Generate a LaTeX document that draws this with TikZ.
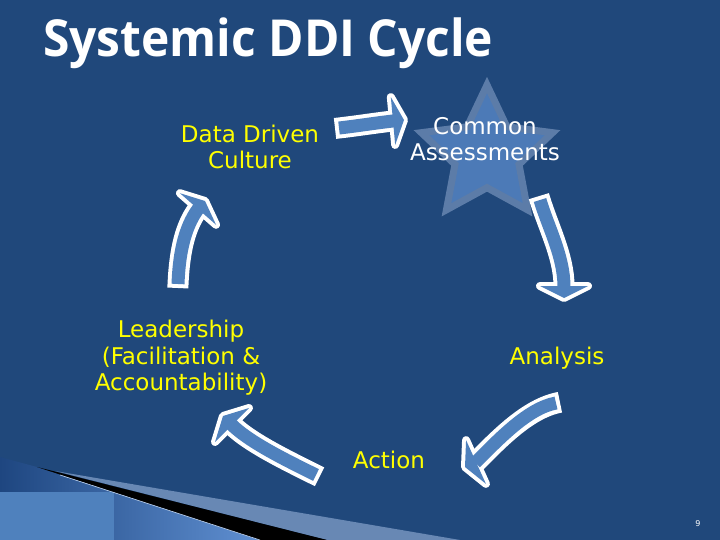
\documentclass[tikz,border=0pt]{standalone}
\usepackage{fontspec}
\setmainfont{DejaVu Sans}
\newfontfamily\titlefont{Open Sans}
\usepackage{tikz}
\usetikzlibrary{calc}
\usetikzlibrary{shapes.geometric}
\definecolor{slidebg}{RGB}{32,72,123}
\definecolor{arrowblue}{RGB}{79,129,189}
\definecolor{starblue}{RGB}{76,122,183}
\definecolor{starrim}{RGB}{92,124,168}
\definecolor{bandgrey}{RGB}{104,136,180}
\definecolor{swooshdark}{RGB}{30,70,128}
\definecolor{swooshlight}{RGB}{96,144,210}
\definecolor{labelyellow}{RGB}{255,255,0}
\tikzset{
stage/.style={text=labelyellow, align=center, inner sep=0pt, font=\fontsize{23}{26.5}\selectfont},
arrow rim/.style={draw=white, line width=21pt, shorten <=-4pt},
head rim/.style={fill=white, draw=white, line width=8pt, line join=round},
arrow body/.style={draw=arrowblue, line width=13pt, shorten >=-1pt},
arrow fill/.style={fill=arrowblue}
}
% tail, control, control, head base, tip
\newcommand{\cyclearrow}[5]{%
  \draw[arrow rim] (#1) .. controls (#2) and (#3) .. (#4);
  \filldraw[head rim] (#5) -- ($(#4)!24pt!90:(#5)$) -- ($(#4)!24pt!-90:(#5)$) -- cycle;
  \draw[arrow body] (#1) .. controls (#2) and (#3) .. (#4);
  \fill[arrow fill] (#5) -- ($(#4)!24pt!90:(#5)$) -- ($(#4)!24pt!-90:(#5)$) -- cycle;
}

\begin{document}
\begin{tikzpicture}[x=1pt, y=-1pt]
    \useasboundingbox (0,0) rectangle (720,540);
    \fill[slidebg] (0,0) rectangle (720,540);

    \shade[left color=swooshdark, right color=swooshlight] (0,457) -- (37,467) -- (260,540) -- (0,540) -- cycle;
    \fill[arrowblue] (0,492) rectangle (114,540);
    \fill[bandgrey] (55,471) -- (460,540) -- (327,540) -- cycle;
    \fill[black] (37,467) -- (327,540) -- (260,540) -- cycle;
    \draw[white!60!swooshlight, line width=0.6pt] (60,475) -- (260,540);

    \node[star, star points=5, star point ratio=2.05, minimum size=138pt, fill=starblue, draw=starrim, line width=7pt] (star) at (487,154) {};

    \node[anchor=base west, text=white, inner sep=0pt, font=\titlefont\bfseries\fontsize{51}{51}\selectfont] (title) at (43,57) {\scalebox{0.94}[1]{Systemic DDI Cycle}};

    \node[stage] (culture) at (250,147) {Data Driven\\Culture};
    \node[stage, text=white] (assess) at (485,139) {Common\\Assessments};
    \node[stage] (analysis) at (557,358) {Analysis};
    \node[stage] (action) at (389,460) {Action};
    \node[stage] (leader) at (181,358) {Leadership\\(Facilitation \&\\Accountability)};

    \coordinate (a1t) at (339,128);
    \coordinate (a1c) at (357,126);
    \coordinate (a1d) at (375,123);
    \coordinate (a1b) at (393,121);
    \coordinate (a1p) at (404,120);
    \cyclearrow{a1t}{a1c}{a1d}{a1b}{a1p}

    \coordinate (a2t) at (540,200);
    \coordinate (a2c) at (548,227);
    \coordinate (a2d) at (564,256);
    \coordinate (a2b) at (564,286);
    \coordinate (a2p) at (564,298);
    \cyclearrow{a2t}{a2c}{a2d}{a2b}{a2p}

    \coordinate (a3t) at (556,403);
    \coordinate (a3c) at (528,408);
    \coordinate (a3d) at (498,440);
    \coordinate (a3b) at (476,462);
    \coordinate (a3p) at (465,467);
    \cyclearrow{a3t}{a3c}{a3d}{a3b}{a3p}

    \coordinate (a4t) at (316,475);
    \coordinate (a4c) at (290,462);
    \coordinate (a4d) at (250,443);
    \coordinate (a4b) at (232,425);
    \coordinate (a4p) at (223,416);
    \cyclearrow{a4t}{a4c}{a4d}{a4b}{a4p}

    \coordinate (a5t) at (178,284);
    \coordinate (a5c) at (179,258);
    \coordinate (a5d) at (183,229);
    \coordinate (a5b) at (198,209);
    \coordinate (a5p) at (205,201);
    \cyclearrow{a5t}{a5c}{a5d}{a5b}{a5p}

    \node[text=white, font=\fontsize{8}{8}\selectfont] (page) at (698,524) {9};
\end{tikzpicture}
\end{document}
